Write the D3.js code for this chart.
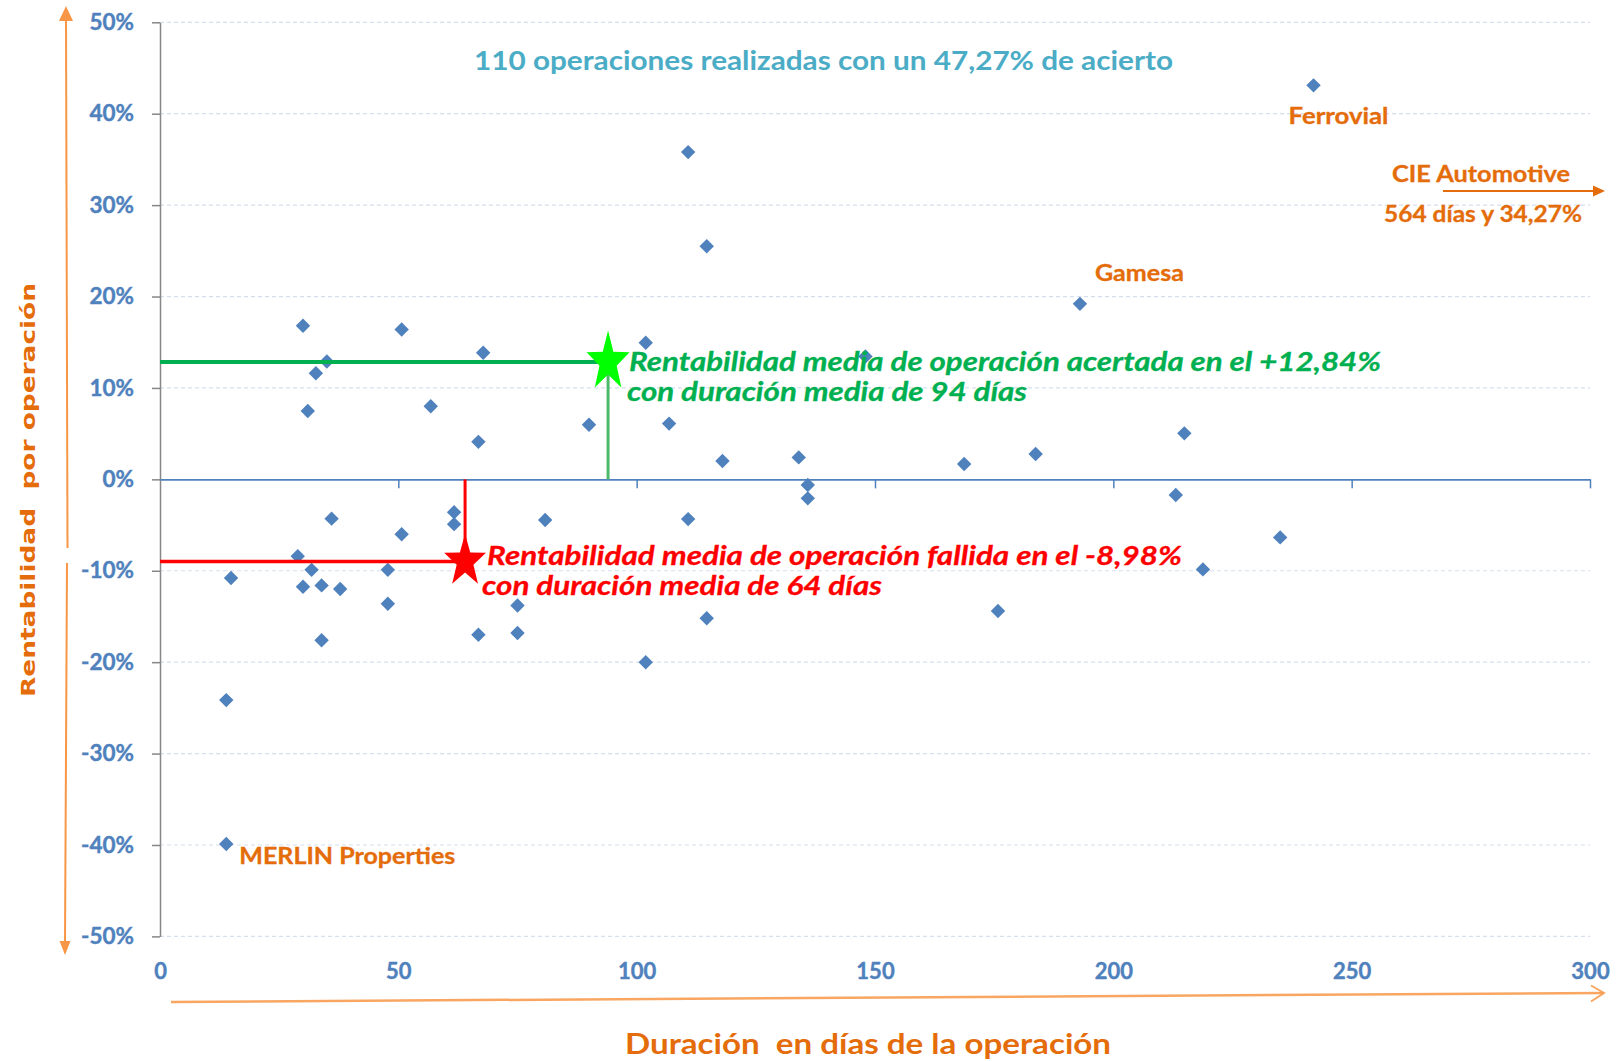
<!DOCTYPE html>
<html lang="es">
<head>
<meta charset="utf-8">
<title>Rentabilidad y duración de las operaciones</title>
<script src="https://cdn.jsdelivr.net/npm/d3@7"></script>
<style>
  html, body { margin: 0; padding: 0; background: #ffffff; }
  svg { display: block; }
  text { white-space: pre; }
</style>
</head>
<body>
<svg id="chart" width="1623" height="1061"></svg>
<script>
// Duración de cada operación (días) y su rentabilidad (%)
const durationDays = [
  110.8, 114.7, 242.0, 193.0, 30.0, 50.7, 101.9, 67.8, 148.0, 35.0,
  32.7, 31.0, 56.8, 90.0, 106.8, 66.8, 214.9, 118.0, 134.0, 168.7,
  183.7, 135.9, 135.9, 213.1, 235.0, 218.8, 36.0, 50.7, 61.7, 61.7,
  80.8, 110.8, 28.9, 31.8, 47.8, 14.9, 30.0, 33.9, 37.8, 47.8,
  75.0, 66.8, 75.0, 33.9, 114.7, 101.9, 175.8, 13.9, 13.9
];
const returnPct = [
  35.8, 25.5, 43.1, 19.2, 16.8, 16.4, 14.95, 13.85, 13.45, 12.9,
  11.6, 7.47, 8.0, 5.97, 6.1, 4.1, 5.03, 2.0, 2.4, 1.67,
  2.77, -0.62, -2.08, -1.72, -6.35, -9.85, -4.3, -6.0, -3.6, -4.9,
  -4.45, -4.35, -8.4, -9.9, -9.9, -10.8, -11.75, -11.6, -12.0, -13.6,
  -13.8, -17.0, -16.8, -17.6, -15.2, -20.0, -14.4, -24.15, -39.9
];

// Operaciones destacadas con nombre
const highlightNames = ["Ferrovial", "Gamesa", "MERLIN Properties"];
const highlightDays = [242.0, 193.0, 13.9];
const highlightPct = [43.1, 19.2, -39.9];

// Medias de las operaciones acertadas y fallidas
const meanDays = [94, 64];
const meanPct = [12.84, -8.98];
const meanLines = [
  ["Rentabilidad media de operación acertada en el +12,84%", "con duración media de 94 días"],
  ["Rentabilidad media de operación fallida en el -8,98%", "con duración media de 64 días"]
];

// Operación fuera de escala
const outsideName = "CIE Automotive";
const outsideText = "564 días y 34,27%";

const titleText = "110 operaciones realizadas con un 47,27% de acierto";
const xTitle = "Duración  en días de la operación";
const yTitle = "Rentabilidad  por operación";

const xTicks = [0, 50, 100, 150, 200, 250, 300];
const yTicks = [-50, -40, -30, -20, -10, 0, 10, 20, 30, 40, 50];

// ---- layout ----
const W = 1623, H = 1061;
const margin = { left: 160, right: 33, top: 22.3, bottom: 124.6 };
const x0 = margin.left, x1 = W - margin.right;
const y0 = margin.top, y1 = H - margin.bottom;

const x = d3.scaleLinear().domain([0, 300]).range([x0, x1]);
const y = d3.scaleLinear().domain([-50, 50]).range([y1, y0]);

const BLUE = "#4F81BD";
const ORANGE_TXT = "#E46C0A";
const ORANGE_LINE = "#F79646";
const LABEL_FONT = "Lato, 'Open Sans', sans-serif";

const svg = d3.select("#chart");

// horizontal gridlines
svg.append("g")
  .selectAll("line")
  .data(yTicks.filter(d => d !== 0))
  .join("line")
  .attr("x1", x0).attr("x2", x1)
  .attr("y1", d => y(d)).attr("y2", d => y(d))
  .attr("stroke", "#D5DFEE")
  .attr("stroke-width", 1.2)
  .attr("stroke-dasharray", "4,3");

// y axis (left, grey)
const yAxis = svg.append("g")
  .attr("transform", `translate(${x0},0)`)
  .call(d3.axisLeft(y).tickValues(yTicks).tickSize(8).tickSizeOuter(0)
    .tickPadding(18).tickFormat(d => d + "%"));
yAxis.select(".domain").attr("stroke", "#868686").attr("stroke-width", 1.5);
yAxis.selectAll(".tick line").attr("stroke", "#868686").attr("stroke-width", 1.5);
yAxis.selectAll(".tick text")
  .attr("fill", BLUE)
  .attr("stroke", BLUE).attr("stroke-width", 0.4)
  .attr("font-family", LABEL_FONT)
  .attr("font-weight", "bold")
  .attr("font-size", 22.5);

// x axis drawn along 0%
const xAxis = svg.append("g")
  .attr("transform", `translate(0,${y(0)})`)
  .call(d3.axisBottom(x).tickValues(xTicks).tickSize(9).tickSizeOuter(0).tickFormat(""));
xAxis.select(".domain").attr("stroke", BLUE).attr("stroke-width", 1.6);
xAxis.selectAll(".tick line").attr("stroke", BLUE).attr("stroke-width", 1.5);
xAxis.selectAll(".tick").filter(d => d === 0).remove();

// x tick labels under the plot
const xLabels = svg.append("g")
  .attr("transform", `translate(0,${y1})`)
  .call(d3.axisBottom(x).tickValues(xTicks).tickSize(0).tickPadding(27).tickFormat(d3.format("d")));
xLabels.select(".domain").remove();
xLabels.selectAll(".tick text")
  .attr("fill", BLUE)
  .attr("stroke", BLUE).attr("stroke-width", 0.4)
  .attr("font-family", LABEL_FONT)
  .attr("font-weight", "bold")
  .attr("font-size", 22);

// data points
const points = d3.range(durationDays.length).map(i => ({ d: durationDays[i], r: returnPct[i] }));
svg.append("g")
  .selectAll("path")
  .data(points)
  .join("path")
  .attr("d", d3.symbol(d3.symbolSquare, 104))
  .attr("transform", p => `translate(${x(p.d)},${y(p.r)}) rotate(45)`)
  .attr("fill", BLUE);

// mean markers: guide lines and stars
function starPath(R, ratio, sy) {
  const pts = d3.range(10).map(i => {
    const rr = i % 2 === 0 ? R : R * ratio;
    const a = -Math.PI / 2 + i * Math.PI / 5;
    return [rr * Math.cos(a), rr * Math.sin(a) * sy];
  });
  return d3.line()(pts) + "Z";
}
const meanStyle = [
  { hLine: "#00B050", hWidth: 4, vLine: "#4DBA6A", vWidth: 3, star: "#00FF00", text: "#00B050",
    R: 22.6, sy: 1.39, dx: 21, dy: 9, dx2: 19 },
  { hLine: "#FF0000", hWidth: 3.5, vLine: "#FF0000", vWidth: 3, star: "#FF0000", text: "#FF0000",
    R: 22, sy: 1.26, dx: 22, dy: 4, dx2: 17 }
];
meanDays.forEach((md, i) => {
  const cx = x(md), cy = y(meanPct[i]);
  const s = meanStyle[i];
  svg.append("line")
    .attr("x1", x(0)).attr("x2", cx).attr("y1", cy).attr("y2", cy)
    .attr("stroke", s.hLine).attr("stroke-width", s.hWidth);
  svg.append("line")
    .attr("x1", cx).attr("x2", cx).attr("y1", y(0)).attr("y2", cy)
    .attr("stroke", s.vLine).attr("stroke-width", s.vWidth);
  svg.append("path")
    .attr("d", starPath(s.R, 0.4, s.sy))
    .attr("transform", `translate(${cx},${cy})`)
    .attr("fill", s.star);
  const t = svg.append("text")
    .attr("fill", s.text)
    .attr("stroke", s.text).attr("stroke-width", 0.3)
    .attr("font-family", LABEL_FONT)
    .attr("font-weight", "bold")
    .attr("font-style", "italic")
    .attr("font-size", 27);
  t.append("tspan").attr("x", cx + s.dx).attr("y", cy + s.dy)
    .attr("textLength", i === 0 ? 752 : 695).attr("lengthAdjust", "spacingAndGlyphs")
    .text(meanLines[i][0]);
  t.append("tspan").attr("x", cx + s.dx2).attr("y", cy + s.dy + 30)
    .attr("textLength", 400).attr("lengthAdjust", "spacingAndGlyphs")
    .text(meanLines[i][1]);
});

// named operations
const labelOffsets = [[-25, 39], [15, -23], [13, 20]];
const labelWidths = [100, 89, 216];
highlightNames.forEach((name, i) => {
  svg.append("text")
    .attr("x", x(highlightDays[i]) + labelOffsets[i][0])
    .attr("y", y(highlightPct[i]) + labelOffsets[i][1])
    .attr("fill", ORANGE_TXT)
    .attr("stroke", ORANGE_TXT).attr("stroke-width", 0.3)
    .attr("font-family", LABEL_FONT)
    .attr("font-weight", "bold")
    .attr("font-size", 22)
    .attr("textLength", labelWidths[i]).attr("lengthAdjust", "spacingAndGlyphs")
    .text(name);
});

// operation beyond the x range
svg.append("text")
  .attr("x", x1 - 20).attr("y", 182)
  .attr("text-anchor", "end")
  .attr("fill", ORANGE_TXT).attr("stroke", ORANGE_TXT).attr("stroke-width", 0.3)
  .attr("font-family", LABEL_FONT).attr("font-weight", "bold").attr("font-size", 22)
  .attr("textLength", 178).attr("lengthAdjust", "spacingAndGlyphs")
  .text(outsideName);
svg.append("text")
  .attr("x", x1 - 8).attr("y", 222)
  .attr("text-anchor", "end")
  .attr("fill", ORANGE_TXT).attr("stroke", ORANGE_TXT).attr("stroke-width", 0.3)
  .attr("font-family", LABEL_FONT).attr("font-weight", "bold").attr("font-size", 22)
  .attr("textLength", 198).attr("lengthAdjust", "spacingAndGlyphs")
  .text(outsideText);
svg.append("line")
  .attr("x1", x1 - 147).attr("x2", x1 + 4).attr("y1", 191).attr("y2", 191)
  .attr("stroke", ORANGE_TXT).attr("stroke-width", 2);
svg.append("path")
  .attr("d", d3.line()([[x1 + 3, 185.5], [x1 + 15, 191], [x1 + 3, 196.5]]) + "Z")
  .attr("fill", ORANGE_TXT);

// title
svg.append("text")
  .attr("x", 474).attr("y", 70)
  .attr("fill", "#4BACC6")
  .attr("font-family", LABEL_FONT).attr("font-weight", "bold").attr("font-size", 26)
  .attr("textLength", 699).attr("lengthAdjust", "spacingAndGlyphs")
  .text(titleText);

// axis direction arrows
const arrows = svg.append("g").attr("fill", ORANGE_LINE).attr("stroke", ORANGE_LINE);
arrows.append("line").attr("x1", 67.5).attr("y1", 548).attr("x2", 66).attr("y2", 18)
  .attr("stroke-width", 2);
arrows.append("path").attr("stroke", "none")
  .attr("d", d3.line()([[59, 21], [66, 6], [73, 21]]) + "Z");
arrows.append("line").attr("x1", 67).attr("y1", 563).attr("x2", 65).attr("y2", 943)
  .attr("stroke-width", 2);
arrows.append("path").attr("stroke", "none")
  .attr("d", d3.line()([[59.5, 941], [65, 955], [70.5, 941]]) + "Z");

const xArrow = svg.append("g").attr("fill", "none").attr("stroke", ORANGE_LINE)
  .attr("stroke-width", 2.5).attr("stroke-opacity", 0.85);
xArrow.append("line").attr("x1", 171).attr("y1", 1002).attr("x2", 1603).attr("y2", 993);
xArrow.append("path").attr("stroke-width", 2)
  .attr("d", d3.line()([[1591, 985.5], [1604, 993], [1591, 1001.5]]));

// axis titles
svg.append("text")
  .attr("x", 868).attr("y", 1054)
  .attr("text-anchor", "middle")
  .attr("fill", ORANGE_TXT)
  .attr("font-family", LABEL_FONT).attr("font-weight", "bold").attr("font-size", 29)
  .attr("textLength", 486).attr("lengthAdjust", "spacingAndGlyphs")
  .text(xTitle);
svg.append("text")
  .attr("transform", "translate(35,490) rotate(-90)")
  .attr("text-anchor", "middle")
  .attr("fill", ORANGE_TXT)
  .attr("font-family", "'DejaVu Sans', Verdana, sans-serif").attr("font-weight", "bold").attr("font-size", 20)
  .attr("textLength", 414).attr("lengthAdjust", "spacingAndGlyphs")
  .text(yTitle);
</script>
</body>
</html>
